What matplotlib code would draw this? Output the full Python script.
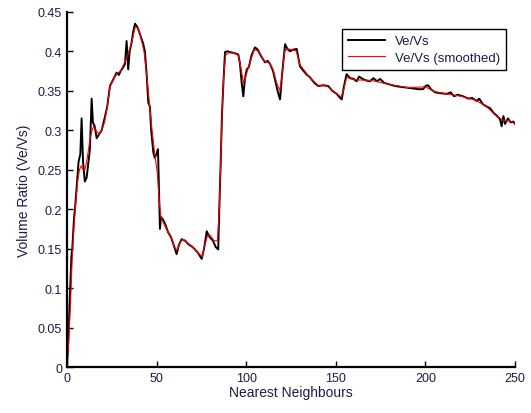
import numpy as np
import matplotlib
matplotlib.use('Agg')
import matplotlib.pyplot as plt

# raw volume ratio
raw_x = [0, 0.5, 1, 1.5, 2.5, 3, 4, 4.5, 5.5, 6.5, 7.5, 8.2, 9, 10, 11, 12, 12.8, 13.8,
         14.5, 15.5, 16.6, 18, 19.4, 21, 22.5, 24, 26, 27.7, 29, 30, 31.5, 32.4, 33.3,
         34.2, 35, 36, 37, 38, 39.5, 41, 42.5, 43.5, 44.5, 45.4, 46.3, 47, 48.2, 49, 50,
         50.8, 51.3, 51.9, 52.5, 53.6, 55, 56.4, 58, 59.5, 61.2, 62.5, 64, 66, 68, 69.6,
         71, 73, 75.2, 76.5, 78, 79.5, 81.5, 83, 84.4, 85, 85.8, 86.5, 87.3, 88.2, 89.5,
         91, 93, 95.6, 96.5, 97.5, 98.4, 99.3, 100.3, 101.5, 103, 104.9, 106.5, 108,
         110.5, 112, 113.3, 115, 116.5, 117.5, 118.9, 120, 121.7, 123, 124.4, 126, 128.2,
         130, 132, 134, 135.6, 138, 140.2, 143, 145.8, 148, 150.5, 152, 153.3, 154.5,
         156, 158, 160, 161.6, 163, 165, 167, 169, 171, 173, 174.7, 177, 180, 183, 186,
         189.6, 193, 196, 198.7, 200, 201.5, 203, 205.4, 208, 211.9, 214, 216, 218, 221,
         224, 226, 228.6, 230, 232, 234.2, 236, 238, 240, 241.6, 242.5, 243.5, 244.4,
         246, 247.5, 249, 250]
raw_y = [0.0, 0.02, 0.05, 0.08, 0.14, 0.15, 0.19, 0.20, 0.23, 0.26, 0.27, 0.315, 0.26,
         0.235, 0.24, 0.26, 0.275, 0.34, 0.31, 0.305, 0.29, 0.295, 0.30, 0.315, 0.33,
         0.356, 0.365, 0.373, 0.37, 0.375, 0.38, 0.384, 0.413, 0.377, 0.40, 0.41, 0.425,
         0.435, 0.43, 0.42, 0.41, 0.40, 0.37, 0.335, 0.33, 0.30, 0.272, 0.265, 0.27,
         0.276, 0.23, 0.175, 0.19, 0.187, 0.18, 0.171, 0.165, 0.155, 0.143, 0.155, 0.162,
         0.16, 0.155, 0.153, 0.15, 0.145, 0.137, 0.15, 0.172, 0.165, 0.16, 0.152, 0.149,
         0.2, 0.26, 0.32, 0.36, 0.399, 0.40, 0.399, 0.398, 0.396, 0.385, 0.36, 0.343,
         0.365, 0.377, 0.38, 0.395, 0.405, 0.402, 0.395, 0.386, 0.388, 0.384, 0.375,
         0.36, 0.35, 0.339, 0.37, 0.409, 0.403, 0.40, 0.402, 0.403, 0.381, 0.375, 0.37,
         0.367, 0.36, 0.356, 0.357, 0.356, 0.35, 0.346, 0.342, 0.339, 0.355, 0.371,
         0.366, 0.365, 0.362, 0.368, 0.365, 0.363, 0.362, 0.366, 0.362, 0.365, 0.36,
         0.358, 0.356, 0.355, 0.354, 0.353, 0.352, 0.352, 0.356, 0.357, 0.352, 0.348,
         0.347, 0.346, 0.348, 0.343, 0.345, 0.343, 0.34, 0.341, 0.337, 0.34, 0.333,
         0.330, 0.328, 0.322, 0.318, 0.314, 0.305, 0.318, 0.308, 0.315, 0.31, 0.311,
         0.308]

# smoothed curve
smooth_x = [0, 1, 2, 3, 4, 5, 6, 7, 8, 9, 10, 11, 12, 13, 14, 15, 16, 18, 19.4, 21, 22.5,
            24, 26, 28, 30, 32, 34, 36, 38, 39.5, 41, 43, 44.5, 46, 47.5, 49, 50.5, 51.5,
            52.5, 54, 56, 58, 60, 61.5, 63, 64.5, 67, 70, 73, 75.5, 77, 78.5, 80, 82, 84,
            85, 85.8, 86.7, 87.5, 88.5, 90, 93, 95.5, 97, 98.5, 100, 102, 104.5, 107, 110,
            113, 115, 117, 118.8, 120, 121.5, 123, 126, 128, 130, 135, 140, 145, 150, 153,
            154.5, 156, 160, 170, 180, 190, 200, 205, 212, 220, 228, 234, 240, 244, 247,
            250]
smooth_y = [0.0, 0.03, 0.08, 0.14, 0.18, 0.21, 0.235, 0.25, 0.255, 0.25, 0.25, 0.26,
            0.275, 0.29, 0.30, 0.305, 0.30, 0.295, 0.30, 0.31, 0.33, 0.355, 0.365, 0.372,
            0.375, 0.385, 0.395, 0.41, 0.43, 0.43, 0.42, 0.40, 0.37, 0.335, 0.30, 0.27,
            0.245, 0.21, 0.19, 0.182, 0.173, 0.165, 0.152, 0.148, 0.157, 0.162, 0.158,
            0.152, 0.145, 0.14, 0.155, 0.167, 0.167, 0.16, 0.16, 0.2, 0.26, 0.33, 0.37,
            0.395, 0.398, 0.398, 0.395, 0.38, 0.36, 0.37, 0.385, 0.402, 0.40, 0.388,
            0.385, 0.377, 0.36, 0.35, 0.37, 0.40, 0.403, 0.402, 0.40, 0.383, 0.368,
            0.357, 0.356, 0.347, 0.342, 0.352, 0.367, 0.364, 0.363, 0.358, 0.354, 0.355,
            0.349, 0.346, 0.343, 0.338, 0.33, 0.317, 0.312, 0.312, 0.308]

label_color = '#1c1c48'

plt.rcParams['font.family'] = ['Liberation Sans', 'DejaVu Sans']

fig = plt.figure(figsize=(5.31, 4.14), dpi=100)
ax = fig.add_axes([0.126, 0.111, 0.844, 0.858])

ax.plot(raw_x, raw_y, color='black', lw=1.4, label='Ve/Vs')
ax.plot(smooth_x, smooth_y, color='red', lw=0.8, label='Ve/Vs (smoothed)')

ax.set_xlim(0, 250)
ax.set_ylim(0, 0.45)
ax.set_xticks([0, 50, 100, 150, 200, 250])
ax.set_yticks(np.arange(0, 0.451, 0.05))
ax.set_yticklabels(['0', '0.05', '0.1', '0.15', '0.2', '0.25', '0.3', '0.35', '0.4', '0.45'])
ax.tick_params(direction='in', length=4, width=1, labelsize=9, labelcolor=label_color)

# box off, like the original
ax.spines['top'].set_visible(False)
ax.spines['right'].set_visible(False)
ax.spines['left'].set_linewidth(1.6)
ax.spines['bottom'].set_linewidth(1.6)

ax.set_xlabel('Nearest Neighbours', fontsize=10, color=label_color, labelpad=1)
ax.set_ylabel('Volume Ratio (Ve/Vs)', fontsize=10, color=label_color, labelpad=5)

leg = ax.legend(loc='upper right', bbox_to_anchor=(0.995, 0.97), fontsize=9.5,
                fancybox=False, framealpha=1, edgecolor='black', handlelength=2.8,
                borderpad=0.45, labelspacing=0.35)
leg.get_frame().set_linewidth(1.0)
for t in leg.get_texts():
    t.set_color(label_color)

fig.savefig('out.png', dpi=100)
